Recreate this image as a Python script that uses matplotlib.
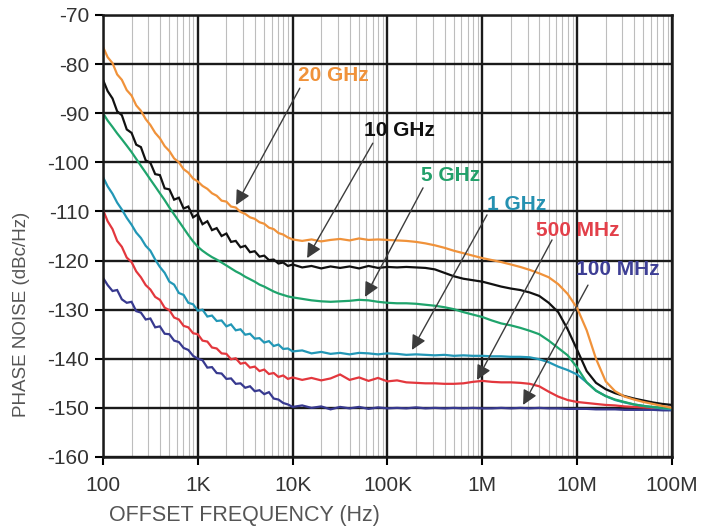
"""
Phase noise vs offset frequency for several output frequencies
"""

import matplotlib as mpl
import matplotlib.pyplot as plt
from matplotlib.ticker import LogLocator, NullFormatter

mpl.rcParams["font.family"] = "Liberation Sans"
mpl.rcParams["axes.unicode_minus"] = False

# offset frequency grid (Hz), shared by all traces
FREQ_HZ = [
    100, 112, 126, 141, 158, 178, 200, 224, 251, 282,
    316, 355, 398, 447, 501, 562, 631, 708, 794, 891,
    1000, 1120, 1260, 1410, 1580, 1780, 2000, 2240, 2510, 2820,
    3160, 3550, 3980, 4470, 5010, 5620, 6310, 7080, 7940, 8910,
    10e3, 12.6e3, 15.8e3, 20e3, 25.1e3, 31.6e3, 39.8e3, 50.1e3, 63.1e3, 79.4e3,
    100e3, 126e3, 158e3, 200e3, 251e3, 316e3, 398e3, 501e3, 631e3, 794e3,
    1e6, 1.26e6, 1.58e6, 2e6, 2.51e6, 3.16e6, 3.98e6, 5.01e6, 6.31e6, 7.94e6,
    10e6, 12.6e6, 15.8e6, 20e6, 25.1e6, 31.6e6, 39.8e6, 50.1e6, 63.1e6, 79.4e6,
    100e6,
]

PN_20G = [
    -76.5, -78.6, -79.8, -82.1, -83.2, -85.3, -86.4, -88.4, -89.5, -91.2,
    -92.4, -94.0, -95.1, -96.7, -97.7, -99.2, -100.0, -101.4, -102.1, -103.3,
    -103.9, -104.8, -105.4, -106.3, -106.8, -107.8, -108.0, -109.0, -109.2, -110.1,
    -110.5, -111.2, -111.5, -112.2, -112.5, -113.3, -113.6, -114.4, -114.7, -115.3,
    -115.7, -116.0, -115.7, -116.1, -115.8, -115.6, -115.9, -115.5, -115.8, -115.7,
    -115.8, -115.9, -116.0, -116.2, -116.5, -116.9, -117.4, -118.0, -118.5, -119.0,
    -119.5, -119.9, -120.3, -120.8, -121.3, -121.9, -122.6, -123.4, -124.8, -126.8,
    -129.7, -134.2, -140.0, -144.6, -146.6, -147.7, -148.3, -148.8, -149.2, -149.6,
    -150.0,
]

PN_10G = [
    -83.2, -85.5, -87.0, -89.6, -90.4, -93.3, -94.0, -96.4, -96.9, -99.6,
    -100.1, -102.4, -102.6, -105.3, -105.5, -107.6, -107.2, -109.4, -109.0, -111.2,
    -110.6, -112.6, -112.0, -113.8, -113.4, -115.0, -114.5, -116.2, -116.0, -117.3,
    -117.0, -118.3, -118.1, -119.2, -119.0, -119.9, -119.8, -120.6, -120.4, -121.1,
    -120.8, -121.4, -121.1, -121.6, -121.2, -121.5, -121.2, -121.6, -121.1, -121.5,
    -121.3, -121.4, -121.3, -121.4, -121.5, -121.8, -122.5, -123.2, -123.7, -124.0,
    -124.3, -124.8, -125.3, -125.7, -126.0, -126.5, -127.2, -128.6, -130.5, -134.0,
    -138.2, -142.5, -144.9, -146.2, -147.0, -147.6, -148.1, -148.5, -148.9, -149.2,
    -149.4,
]

PN_5G = [
    -90.0, -91.5, -92.8, -94.1, -95.3, -96.6, -97.9, -99.3, -100.7, -102.1,
    -103.5, -104.9, -106.3, -107.7, -109.2, -110.6, -112.0, -113.4, -114.8, -116.1,
    -117.2, -118.0, -118.7, -119.3, -119.8, -120.4, -121.0, -121.6, -122.2, -122.7,
    -123.3, -123.8, -124.3, -124.9, -125.3, -125.8, -126.3, -126.7, -127.0, -127.3,
    -127.5, -127.8, -128.1, -128.3, -128.4, -128.3, -128.2, -128.0, -128.1, -128.4,
    -128.6, -128.7, -128.7, -128.8, -129.0, -129.2, -129.5, -129.9, -130.5, -131.0,
    -131.5, -132.2, -132.8, -133.2, -133.7, -134.3, -135.0, -136.3, -137.8, -139.3,
    -141.8, -144.8, -146.5, -147.6, -148.3, -148.8, -149.3, -149.6, -149.8, -150.0,
    -150.1,
]

PN_1G = [
    -103.0, -104.9, -106.4, -108.2, -109.6, -111.3, -112.7, -114.3, -115.4, -117.0,
    -118.0, -119.8, -121.3, -122.5, -124.3, -124.9, -126.6, -127.0, -128.6, -128.9,
    -130.2, -130.0, -131.4, -131.2, -132.3, -132.2, -133.4, -133.0, -134.2, -134.0,
    -135.1, -134.9, -135.9, -135.8, -136.7, -136.4, -137.4, -137.1, -138.0, -137.9,
    -138.5, -138.3, -138.9, -138.6, -139.0, -138.8, -139.1, -138.8, -138.9, -139.1,
    -138.9, -139.0, -139.2, -139.1, -139.2, -139.3, -139.2, -139.4, -139.3, -139.4,
    -139.4, -139.5, -139.5, -139.6, -139.6, -139.7, -140.1, -140.7, -141.6, -142.3,
    -143.2, -144.8, -146.5, -147.6, -148.4, -148.9, -149.3, -149.6, -149.9, -150.1,
    -150.3,
]

PN_500M = [
    -109.7, -112.0, -113.6, -116.0, -117.2, -119.4, -120.3, -122.2, -123.4, -125.0,
    -125.9, -127.4, -128.0, -129.6, -130.1, -131.6, -132.0, -133.3, -133.6, -134.8,
    -135.0, -136.3, -136.5, -137.7, -137.9, -138.9, -139.0, -140.1, -139.9, -141.0,
    -140.8, -141.8, -141.6, -142.5, -142.2, -143.1, -142.9, -143.7, -143.4, -144.1,
    -143.8, -144.3, -143.9, -144.4, -144.0, -143.2, -144.3, -143.8, -144.5, -143.9,
    -144.6, -144.4, -144.8, -144.9, -145.0, -145.0, -145.1, -145.1, -145.0, -144.7,
    -144.5, -144.7, -144.8, -144.8, -144.9, -145.1, -145.6, -146.7, -147.7, -148.4,
    -148.8, -149.0, -149.2, -149.4, -149.5, -149.7, -149.8, -149.9, -150.0, -150.0,
    -150.1,
]

PN_100M = [
    -123.5, -125.0, -126.2, -126.0, -127.9, -128.6, -128.4, -130.3, -130.6, -132.0,
    -131.8, -133.6, -133.4, -134.9, -135.0, -136.3, -136.6, -137.8, -138.2, -139.4,
    -140.0, -140.3, -141.8, -141.7, -142.9, -143.0, -144.1, -144.0, -145.1, -145.0,
    -145.9, -145.6, -146.6, -146.4, -147.2, -146.8, -148.1, -148.3, -149.0, -149.3,
    -149.8, -149.5, -150.0, -149.7, -150.3, -149.8, -150.1, -149.8, -150.2, -149.9,
    -150.1, -150.0, -150.1, -149.9, -150.1, -150.0, -150.1, -150.0, -150.1, -150.0,
    -150.1, -150.1, -150.0, -150.1, -150.0, -150.1, -150.0, -150.1, -150.1, -150.2,
    -150.2, -150.2, -150.3, -150.3, -150.3, -150.4, -150.4, -150.4, -150.4, -150.5,
    -150.5,
]

LABELS = ["20 GHz", "10 GHz", "5 GHz", "1 GHz", "500 MHz", "100 MHz"]
TRACES = [PN_20G, PN_10G, PN_5G, PN_1G, PN_500M, PN_100M]

XTICKS = [100, 1e3, 1e4, 1e5, 1e6, 1e7, 1e8]
XTICK_LABELS = ["100", "1K", "10K", "100K", "1M", "10M", "100M"]
YTICKS = [-160, -150, -140, -130, -120, -110, -100, -90, -80, -70]

COLORS = ["#F0923A", "#111111", "#1FA46C", "#2297B6", "#E3373D", "#37398F"]
TEXT_COLORS = ["#F0923A", "#111111", "#22A06A", "#2591B1", "#E2404A", "#3E3F95"]

# (text pos, arrow tail, arrow tip) in data coords
ANNOT = [
    ((26.6e3, -82.4), (11.9e3, -84.9), (2.53e3, -108.7)),
    ((135e3, -93.5), (70e3, -96.1), (14.2e3, -119.5)),
    ((468e3, -102.7), (237e3, -105.2), (58e3, -127.4)),
    ((2.32e6, -108.5), (1.12e6, -110.7), (181e3, -138.2)),
    ((10.2e6, -113.8), (5.43e6, -115.8), (879e3, -144.3)),
    ((27e6, -121.9), (13e6, -125.0), (2.69e6, -149.4)),
]

W, H = 702, 531
fig = plt.figure(figsize=(W / 100, H / 100), dpi=100)
ax = fig.add_axes([103 / W, 1 - 457 / H, (672 - 103) / W, (457 - 15) / H])

for vals, color in reversed(list(zip(TRACES, COLORS))):
    ax.plot(FREQ_HZ, vals, color=color, lw=1.6, solid_joinstyle="miter")

ax.set_xscale("log")
ax.set_xlim(100, 1e8)
ax.set_ylim(-160, -70)
ax.set_xticks(XTICKS)
ax.set_xticklabels(XTICK_LABELS)
ax.set_yticks(YTICKS)
ax.xaxis.set_minor_locator(LogLocator(base=10, subs=range(2, 10), numticks=20))
ax.xaxis.set_minor_formatter(NullFormatter())

ax.set_axisbelow(True)
ax.grid(which="major", color="#1a1a1a", lw=1.7)
ax.grid(which="minor", axis="x", color="#bdbdbd", lw=0.8)
for sp in ax.spines.values():
    sp.set_linewidth(1.8)
    sp.set_color("#1a1a1a")

ax.tick_params(axis="x", which="major", direction="out", length=6, width=1.5,
               pad=8, labelsize=15, labelcolor="#333333")
ax.tick_params(axis="y", which="major", direction="out", length=6, width=1.5,
               pad=4, labelsize=15, labelcolor="#333333")
ax.tick_params(which="minor", length=0)

fig.text(244 / W, 1 - 516 / H, "OFFSET FREQUENCY (Hz)", ha="center", va="center",
         fontsize=15.5, color="#555555")
fig.text(22 / W, 1 - 314 / H, "PHASE NOISE (dBc/Hz)", ha="center", va="center",
         rotation=90, fontsize=13.5, color="#555555")

for label, tcol, (tpos, tail, tip) in zip(LABELS, TEXT_COLORS, ANNOT):
    ax.text(tpos[0], tpos[1], label, color=tcol, fontsize=15, fontweight="bold",
            ha="center", va="center")
    ax.annotate("", xy=tip, xytext=tail,
                arrowprops=dict(arrowstyle="-|>", color="#3c3c3c", lw=1.0,
                                mutation_scale=22, shrinkA=0, shrinkB=0))

plt.savefig("out.png", dpi=100)
